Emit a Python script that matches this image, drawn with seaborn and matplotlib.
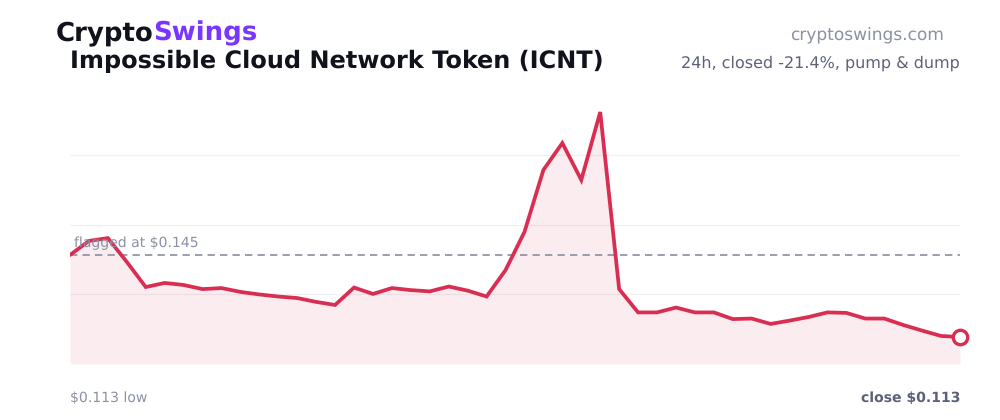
import matplotlib
matplotlib.use("Agg")
import matplotlib.pyplot as plt
import pandas as pd
import seaborn as sns

hours = list(range(48))
prices = [.1450, .1505, .1516, .1423, .1325, .1341, .1333, .1317, .1321, .1306,
          .1296, .1288, .1282, .1267, .1255, .1323, .1298, .1321, .1313, .1308,
          .1327, .1311, .1288, .1391, .1540, .1782, .1887, .1743, .2008, .1317,
          .1226, .1226, .1245, .1226, .1226, .1200, .1202, .1181, .1194, .1208,
          .1226, .1224, .1202, .1202, .1177, .1155, .1134, .1130]
grid_levels = [.1298, .1569, .1840]
flag_price = .145
brand_parts = ["Crypto", "Swings"]
title = "Impossible Cloud Network Token (ICNT)"
site = "cryptoswings.com"
subtitle = "24h, closed -21.4%, pump & dump"
flag_label = "flagged at $0.145"
low_label = "$0.113 low"
close_label = "close $0.113"

RED = "#d92e52"
GREY = "#8b90a5"
DARK = "#5c6178"
INK = "#10131c"
PURPLE = "#7a35ff"

sns.set_style("white")
plt.rcParams["font.family"] = ["DejaVu Sans"]
plt.rcParams["text.hinting"] = "no_hinting"
plt.rcParams["text.hinting_factor"] = 1

fig = plt.figure(figsize=(10, 4.2), dpi=100, facecolor="white")
ax = fig.add_axes([70 / 1000, 1 - 364 / 420, 890 / 1000, 264 / 420])
df = pd.DataFrame({"hour": hours, "price": prices})

ymin, ymax = .10246, .2055
ax.set_xlim(0, 47)
ax.set_ylim(ymin, ymax)
for g in grid_levels:
    ax.axhline(g, color="#f0f0f4", lw=0.9, zorder=1)
ax.fill_between(hours, prices, ymin, color=RED, alpha=0.09, lw=0, zorder=2)
ax.axhline(flag_price, color="#8a8f9f", lw=1.2, dashes=(4.4, 3.1), zorder=3)
sns.lineplot(data=df, x="hour", y="price", ax=ax, color=RED, lw=2.7,
             zorder=4, errorbar=None, solid_joinstyle="miter")
ax.plot(hours[-1:], prices[-1:], "o", ms=10.4, mfc="white", mec=RED, mew=2.4,
        zorder=5, clip_on=False)
ax.set_axis_off()


def px(x, y, s, **kw):
    return fig.text(x / 1000, 1 - y / 420, s, **kw)


px(56, 33, brand_parts[0], fontsize=18.8, fontweight="bold", color=INK, va="center")
px(153.5, 33, brand_parts[1], fontsize=18.8, fontweight="bold", color=PURPLE, va="center")
px(70, 61, title, fontsize=17.3, fontweight="bold", color=INK, va="center")
px(944, 36, site, fontsize=12.3, color=GREY, ha="right", va="center")
px(960, 63.5, subtitle, fontsize=11.5, color=DARK, ha="right", va="center")
px(74, 243, flag_label, fontsize=10, color=GREY, va="center")
px(70, 398, low_label, fontsize=10, color=GREY, va="center")
px(960, 398, close_label, fontsize=10, fontweight="bold", color=DARK, ha="right", va="center")

fig.savefig("out.png", dpi=100, facecolor="white")
